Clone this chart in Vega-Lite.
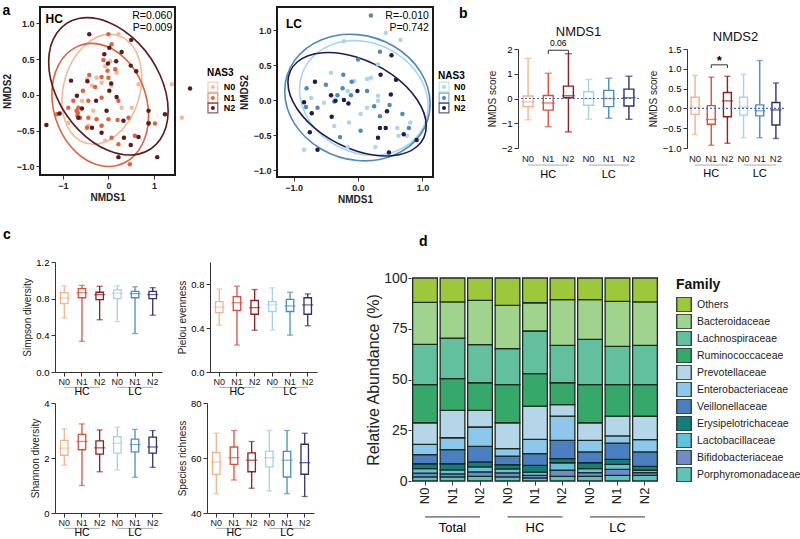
{
"$schema": "https://vega.github.io/schema/vega-lite/v6.json",
"background": "white",
"padding": {"left": 2, "top": 2, "right": 2, "bottom": 0},
"datasets": {
"one": [{}],
"pts": [
{"p":"HC","g":"N0","x":0.22,"y":0.85},{"p":"HC","g":"N0","x":-0.07,"y":0.40},{"p":"HC","g":"N0","x":-0.15,"y":0.17},{"p":"HC","g":"N0","x":-0.47,"y":0.22},{"p":"HC","g":"N0","x":1.39,"y":0.15},{"p":"HC","g":"N0","x":1.61,"y":-0.32},{"p":"HC","g":"N0","x":-0.88,"y":-0.39},{"p":"HC","g":"N0","x":-0.44,"y":-0.43},{"p":"HC","g":"N0","x":-0.15,"y":-0.43},{"p":"HC","g":"N0","x":-0.07,"y":-0.64},{"p":"HC","g":"N0","x":-0.36,"y":0.13},{"p":"HC","g":"N0","x":0.07,"y":0.13},{"p":"HC","g":"N0","x":0.18,"y":0.31},{"p":"HC","g":"N0","x":-0.26,"y":0.24},{"p":"HC","g":"N0","x":0.29,"y":-0.18},{"p":"HC","g":"N0","x":-0.58,"y":-0.08},{"p":"HC","g":"N0","x":0.51,"y":-0.18},{"p":"HC","g":"N0","x":0.04,"y":0.47},{"p":"HC","g":"N0","x":-0.33,"y":-0.22},{"p":"HC","g":"N0","x":0.66,"y":0.15},
{"p":"HC","g":"N1","x":0.0,"y":0.85},{"p":"HC","g":"N1","x":0.07,"y":0.71},{"p":"HC","g":"N1","x":-0.11,"y":0.49},{"p":"HC","g":"N1","x":0.15,"y":0.36},{"p":"HC","g":"N1","x":-0.02,"y":0.34},{"p":"HC","g":"N1","x":-0.15,"y":0.25},{"p":"HC","g":"N1","x":-0.42,"y":0.28},{"p":"HC","g":"N1","x":-0.29,"y":0.11},{"p":"HC","g":"N1","x":-0.56,"y":0.06},{"p":"HC","g":"N1","x":-0.77,"y":-0.08},{"p":"HC","g":"N1","x":-0.66,"y":-0.18},{"p":"HC","g":"N1","x":-0.67,"y":-0.25},{"p":"HC","g":"N1","x":-0.62,"y":-0.32},{"p":"HC","g":"N1","x":-1.13,"y":-0.27},{"p":"HC","g":"N1","x":-0.44,"y":-0.32},{"p":"HC","g":"N1","x":-0.26,"y":-0.34},{"p":"HC","g":"N1","x":0.0,"y":-0.34},{"p":"HC","g":"N1","x":0.20,"y":-0.35},{"p":"HC","g":"N1","x":0.44,"y":-0.32},{"p":"HC","g":"N1","x":0.88,"y":-0.39},{"p":"HC","g":"N1","x":1.02,"y":-0.40},{"p":"HC","g":"N1","x":-0.15,"y":-0.43},{"p":"HC","g":"N1","x":-0.47,"y":-0.46},{"p":"HC","g":"N1","x":0.07,"y":-0.60},{"p":"HC","g":"N1","x":0.22,"y":-0.69},{"p":"HC","g":"N1","x":0.47,"y":-0.97},{"p":"HC","g":"N1","x":0.58,"y":-0.57},{"p":"HC","g":"N1","x":-0.44,"y":-0.08},{"p":"HC","g":"N1","x":-0.88,"y":-0.18},{"p":"HC","g":"N1","x":0.22,"y":-0.08},{"p":"HC","g":"N1","x":-0.15,"y":-0.04},{"p":"HC","g":"N1","x":0.0,"y":0.24},{"p":"HC","g":"N1","x":-0.70,"y":-0.22},{"p":"HC","g":"N1","x":-0.68,"y":-0.28},
{"p":"HC","g":"N2","x":-0.42,"y":0.85},{"p":"HC","g":"N2","x":0.50,"y":0.77},{"p":"HC","g":"N2","x":0.02,"y":0.66},{"p":"HC","g":"N2","x":0.29,"y":0.60},{"p":"HC","g":"N2","x":-0.09,"y":0.57},{"p":"HC","g":"N2","x":-0.01,"y":0.44},{"p":"HC","g":"N2","x":0.17,"y":0.47},{"p":"HC","g":"N2","x":0.49,"y":0.41},{"p":"HC","g":"N2","x":0.61,"y":0.33},{"p":"HC","g":"N2","x":-0.82,"y":0.20},{"p":"HC","g":"N2","x":-0.46,"y":0.19},{"p":"HC","g":"N2","x":0.06,"y":0.16},{"p":"HC","g":"N2","x":1.79,"y":0.09},{"p":"HC","g":"N2","x":0.88,"y":-0.22},{"p":"HC","g":"N2","x":1.24,"y":-0.27},{"p":"HC","g":"N2","x":-1.36,"y":-0.42},{"p":"HC","g":"N2","x":-1.07,"y":-0.26},{"p":"HC","g":"N2","x":-0.66,"y":-0.32},{"p":"HC","g":"N2","x":-0.04,"y":-0.22},{"p":"HC","g":"N2","x":0.33,"y":-0.36},{"p":"HC","g":"N2","x":-0.36,"y":-0.46},{"p":"HC","g":"N2","x":-0.15,"y":-0.53},{"p":"HC","g":"N2","x":0.66,"y":-0.59},{"p":"HC","g":"N2","x":0.34,"y":-0.60},{"p":"HC","g":"N2","x":0.49,"y":-0.70},{"p":"HC","g":"N2","x":0.22,"y":-0.87},{"p":"HC","g":"N2","x":1.07,"y":-0.87},{"p":"HC","g":"N2","x":0.88,"y":-0.40},{"p":"HC","g":"N2","x":-0.58,"y":-0.19},{"p":"HC","g":"N2","x":-0.27,"y":-0.08},{"p":"HC","g":"N2","x":0.02,"y":0.06},{"p":"HC","g":"N2","x":0.18,"y":-0.03},{"p":"HC","g":"N2","x":-0.69,"y":-0.01},
{"p":"LC","g":"N0","x":0.43,"y":0.96},{"p":"LC","g":"N0","x":0.66,"y":0.86},{"p":"LC","g":"N0","x":-0.22,"y":0.84},{"p":"LC","g":"N0","x":-0.42,"y":0.39},{"p":"LC","g":"N0","x":0.14,"y":0.30},{"p":"LC","g":"N0","x":0.31,"y":0.51},{"p":"LC","g":"N0","x":0.20,"y":0.32},{"p":"LC","g":"N0","x":-0.06,"y":0.27},{"p":"LC","g":"N0","x":-0.16,"y":0.13},{"p":"LC","g":"N0","x":0.31,"y":0.06},{"p":"LC","g":"N0","x":0.31,"y":-0.01},{"p":"LC","g":"N0","x":-0.53,"y":-0.04},{"p":"LC","g":"N0","x":-0.14,"y":-0.32},{"p":"LC","g":"N0","x":-0.37,"y":-0.37},{"p":"LC","g":"N0","x":-0.16,"y":-0.67},{"p":"LC","g":"N0","x":0.27,"y":-0.67},{"p":"LC","g":"N0","x":-0.84,"y":-0.71},{"p":"LC","g":"N0","x":0.61,"y":-0.40},{"p":"LC","g":"N0","x":0.81,"y":-0.32},{"p":"LC","g":"N0","x":0.63,"y":-0.51},{"p":"LC","g":"N0","x":0.76,"y":-0.51},{"p":"LC","g":"N0","x":-0.73,"y":0.03},{"p":"LC","g":"N0","x":0.14,"y":-0.11},{"p":"LC","g":"N0","x":0.04,"y":-0.20},
{"p":"LC","g":"N1","x":0.20,"y":1.21},{"p":"LC","g":"N1","x":0.34,"y":0.69},{"p":"LC","g":"N1","x":0.0,"y":0.58},{"p":"LC","g":"N1","x":-0.23,"y":0.36},{"p":"LC","g":"N1","x":-0.10,"y":0.26},{"p":"LC","g":"N1","x":-0.24,"y":0.17},{"p":"LC","g":"N1","x":-0.32,"y":0.07},{"p":"LC","g":"N1","x":-0.80,"y":0.17},{"p":"LC","g":"N1","x":-0.81,"y":-0.10},{"p":"LC","g":"N1","x":-0.63,"y":-0.11},{"p":"LC","g":"N1","x":-0.11,"y":0.07},{"p":"LC","g":"N1","x":0.25,"y":-0.09},{"p":"LC","g":"N1","x":0.34,"y":-0.23},{"p":"LC","g":"N1","x":-0.28,"y":-0.53},{"p":"LC","g":"N1","x":0.04,"y":-0.44},{"p":"LC","g":"N1","x":0.69,"y":-0.20},{"p":"LC","g":"N1","x":0.79,"y":-0.40},{"p":"LC","g":"N1","x":-0.37,"y":-0.02},{"p":"LC","g":"N1","x":0.14,"y":0.13},{"p":"LC","g":"N1","x":0.49,"y":-0.07},{"p":"LC","g":"N1","x":-0.50,"y":0.22},
{"p":"LC","g":"N2","x":0.52,"y":0.64},{"p":"LC","g":"N2","x":0.35,"y":0.36},{"p":"LC","g":"N2","x":0.59,"y":0.29},{"p":"LC","g":"N2","x":-0.67,"y":0.26},{"p":"LC","g":"N2","x":-0.84,"y":-0.03},{"p":"LC","g":"N2","x":-0.72,"y":-0.19},{"p":"LC","g":"N2","x":-0.41,"y":-0.24},{"p":"LC","g":"N2","x":-0.22,"y":0.0},{"p":"LC","g":"N2","x":-0.01,"y":0.13},{"p":"LC","g":"N2","x":-0.15,"y":-0.05},{"p":"LC","g":"N2","x":0.34,"y":-0.40},{"p":"LC","g":"N2","x":0.43,"y":-0.40},{"p":"LC","g":"N2","x":0.31,"y":-0.54},{"p":"LC","g":"N2","x":0.71,"y":-0.49},{"p":"LC","g":"N2","x":0.91,"y":-0.57},{"p":"LC","g":"N2","x":0.48,"y":-0.75},{"p":"LC","g":"N2","x":-0.75,"y":-0.46},{"p":"LC","g":"N2","x":-0.63,"y":-0.71},{"p":"LC","g":"N2","x":0.51,"y":0.08},{"p":"LC","g":"N2","x":-0.35,"y":-0.01},{"p":"LC","g":"N2","x":-0.42,"y":0.07},{"p":"LC","g":"N2","x":0.45,"y":-0.16}
],
"ell": [
{"p":"HC","g":"N0","i":0,"x":0.73,"y":0.24},{"p":"HC","g":"N0","i":1,"x":0.613,"y":0.596},{"p":"HC","g":"N0","i":2,"x":0.293,"y":0.812},{"p":"HC","g":"N0","i":3,"x":-0.145,"y":0.833},{"p":"HC","g":"N0","i":4,"x":-0.583,"y":0.652},{"p":"HC","g":"N0","i":5,"x":-0.903,"y":0.318},{"p":"HC","g":"N0","i":6,"x":-1.02,"y":-0.08},{"p":"HC","g":"N0","i":7,"x":-0.903,"y":-0.436},{"p":"HC","g":"N0","i":8,"x":-0.583,"y":-0.652},{"p":"HC","g":"N0","i":9,"x":-0.145,"y":-0.673},{"p":"HC","g":"N0","i":10,"x":0.293,"y":-0.492},{"p":"HC","g":"N0","i":11,"x":0.613,"y":-0.158},
{"p":"HC","g":"N1","i":0,"x":0.88,"y":-0.29},{"p":"HC","g":"N1","i":1,"x":0.738,"y":0.154},{"p":"HC","g":"N1","i":2,"x":0.35,"y":0.519},{"p":"HC","g":"N1","i":3,"x":-0.18,"y":0.707},{"p":"HC","g":"N1","i":4,"x":-0.71,"y":0.669},{"p":"HC","g":"N1","i":5,"x":-1.098,"y":0.414},{"p":"HC","g":"N1","i":6,"x":-1.24,"y":0.01},{"p":"HC","g":"N1","i":7,"x":-1.098,"y":-0.434},{"p":"HC","g":"N1","i":8,"x":-0.71,"y":-0.799},{"p":"HC","g":"N1","i":9,"x":-0.18,"y":-0.987},{"p":"HC","g":"N1","i":10,"x":0.35,"y":-0.949},{"p":"HC","g":"N1","i":11,"x":0.738,"y":-0.694},
{"p":"HC","g":"N2","i":0,"x":1.31,"y":-0.22},{"p":"HC","g":"N2","i":1,"x":1.134,"y":0.275},{"p":"HC","g":"N2","i":2,"x":0.655,"y":0.728},{"p":"HC","g":"N2","i":3,"x":0.0,"y":1.018},{"p":"HC","g":"N2","i":4,"x":-0.655,"y":1.068},{"p":"HC","g":"N2","i":5,"x":-1.134,"y":0.863},{"p":"HC","g":"N2","i":6,"x":-1.31,"y":0.46},{"p":"HC","g":"N2","i":7,"x":-1.134,"y":-0.035},{"p":"HC","g":"N2","i":8,"x":-0.655,"y":-0.488},{"p":"HC","g":"N2","i":9,"x":0.0,"y":-0.778},{"p":"HC","g":"N2","i":10,"x":0.655,"y":-0.828},{"p":"HC","g":"N2","i":11,"x":1.134,"y":-0.623},
{"p":"LC","g":"N0","i":0,"x":1.09,"y":-0.09},{"p":"LC","g":"N0","i":1,"x":0.956,"y":0.331},{"p":"LC","g":"N0","i":2,"x":0.59,"y":0.671},{"p":"LC","g":"N0","i":3,"x":0.09,"y":0.84},{"p":"LC","g":"N0","i":4,"x":-0.41,"y":0.791},{"p":"LC","g":"N0","i":5,"x":-0.776,"y":0.539},{"p":"LC","g":"N0","i":6,"x":-0.91,"y":0.15},{"p":"LC","g":"N0","i":7,"x":-0.776,"y":-0.271},{"p":"LC","g":"N0","i":8,"x":-0.41,"y":-0.611},{"p":"LC","g":"N0","i":9,"x":0.09,"y":-0.78},{"p":"LC","g":"N0","i":10,"x":0.59,"y":-0.731},{"p":"LC","g":"N0","i":11,"x":0.956,"y":-0.479},
{"p":"LC","g":"N1","i":0,"x":1.12,"y":-0.055},{"p":"LC","g":"N1","i":1,"x":0.969,"y":0.407},{"p":"LC","g":"N1","i":2,"x":0.555,"y":0.769},{"p":"LC","g":"N1","i":3,"x":-0.01,"y":0.935},{"p":"LC","g":"N1","i":4,"x":-0.575,"y":0.859},{"p":"LC","g":"N1","i":5,"x":-0.989,"y":0.563},{"p":"LC","g":"N1","i":6,"x":-1.14,"y":0.125},{"p":"LC","g":"N1","i":7,"x":-0.989,"y":-0.337},{"p":"LC","g":"N1","i":8,"x":-0.575,"y":-0.699},{"p":"LC","g":"N1","i":9,"x":-0.01,"y":-0.865},{"p":"LC","g":"N1","i":10,"x":0.555,"y":-0.789},{"p":"LC","g":"N1","i":11,"x":0.969,"y":-0.493},
{"p":"LC","g":"N2","i":0,"x":1.06,"y":-0.37},{"p":"LC","g":"N2","i":1,"x":0.916,"y":0.008},{"p":"LC","g":"N2","i":2,"x":0.523,"y":0.367},{"p":"LC","g":"N2","i":3,"x":-0.015,"y":0.612},{"p":"LC","g":"N2","i":4,"x":-0.553,"y":0.677},{"p":"LC","g":"N2","i":5,"x":-0.946,"y":0.544},{"p":"LC","g":"N2","i":6,"x":-1.09,"y":0.25},{"p":"LC","g":"N2","i":7,"x":-0.946,"y":-0.128},{"p":"LC","g":"N2","i":8,"x":-0.553,"y":-0.487},{"p":"LC","g":"N2","i":9,"x":-0.015,"y":-0.732},{"p":"LC","g":"N2","i":10,"x":0.523,"y":-0.797},{"p":"LC","g":"N2","i":11,"x":0.916,"y":-0.664}
],
"box": [
{"m":"NMDS1","grp":"HC N0","lo":-0.86,"q1":-0.33,"md":-0.13,"q3":0.1,"hi":1.62},
{"m":"NMDS1","grp":"HC N1","lo":-1.14,"q1":-0.47,"md":-0.18,"q3":0.12,"hi":1.02},
{"m":"NMDS1","grp":"HC N2","lo":-1.35,"q1":0.03,"md":0.11,"q3":0.5,"hi":1.81},
{"m":"NMDS1","grp":"LC N0","lo":-0.84,"q1":-0.27,"md":0.0,"q3":0.27,"hi":0.77},
{"m":"NMDS1","grp":"LC N1","lo":-0.8,"q1":-0.33,"md":0.0,"q3":0.33,"hi":0.82},
{"m":"NMDS1","grp":"LC N2","lo":-0.84,"q1":-0.3,"md":0.03,"q3":0.38,"hi":0.9},
{"m":"NMDS2","grp":"HC N0","lo":-0.66,"q1":-0.15,"md":0.03,"q3":0.28,"hi":0.83},
{"m":"NMDS2","grp":"HC N1","lo":-0.93,"q1":-0.4,"md":-0.28,"q3":0.07,"hi":0.79},
{"m":"NMDS2","grp":"HC N2","lo":-0.88,"q1":-0.21,"md":0.19,"q3":0.4,"hi":0.81},
{"m":"NMDS2","grp":"LC N0","lo":-0.74,"q1":-0.17,"md":0.03,"q3":0.28,"hi":0.86},
{"m":"NMDS2","grp":"LC N1","lo":-0.74,"q1":-0.19,"md":-0.06,"q3":0.09,"hi":1.21},
{"m":"NMDS2","grp":"LC N2","lo":-0.76,"q1":-0.42,"md":-0.04,"q3":0.15,"hi":0.64},
{"m":"Simpson","grp":"HC N0","lo":0.59,"q1":0.745,"md":0.807,"q3":0.865,"hi":0.94},
{"m":"Simpson","grp":"HC N1","lo":0.335,"q1":0.81,"md":0.865,"q3":0.91,"hi":0.945},
{"m":"Simpson","grp":"HC N2","lo":0.57,"q1":0.79,"md":0.844,"q3":0.87,"hi":0.935},
{"m":"Simpson","grp":"LC N0","lo":0.55,"q1":0.8,"md":0.86,"q3":0.895,"hi":0.94},
{"m":"Simpson","grp":"LC N1","lo":0.42,"q1":0.81,"md":0.855,"q3":0.88,"hi":0.93},
{"m":"Simpson","grp":"LC N2","lo":0.62,"q1":0.8,"md":0.845,"q3":0.88,"hi":0.92},
{"m":"Pielou","grp":"HC N0","lo":0.425,"q1":0.54,"md":0.59,"q3":0.64,"hi":0.755},
{"m":"Pielou","grp":"HC N1","lo":0.245,"q1":0.56,"md":0.63,"q3":0.685,"hi":0.78},
{"m":"Pielou","grp":"HC N2","lo":0.38,"q1":0.525,"md":0.585,"q3":0.65,"hi":0.75},
{"m":"Pielou","grp":"LC N0","lo":0.38,"q1":0.55,"md":0.61,"q3":0.64,"hi":0.765},
{"m":"Pielou","grp":"LC N1","lo":0.335,"q1":0.55,"md":0.6,"q3":0.66,"hi":0.725},
{"m":"Pielou","grp":"LC N2","lo":0.42,"q1":0.525,"md":0.61,"q3":0.675,"hi":0.71},
{"m":"Shannon","grp":"HC N0","lo":1.74,"q1":2.1,"md":2.36,"q3":2.64,"hi":3.06},
{"m":"Shannon","grp":"HC N1","lo":1.0,"q1":2.3,"md":2.6,"q3":2.86,"hi":3.24},
{"m":"Shannon","grp":"HC N2","lo":1.5,"q1":2.14,"md":2.37,"q3":2.62,"hi":3.02},
{"m":"Shannon","grp":"LC N0","lo":1.56,"q1":2.18,"md":2.54,"q3":2.78,"hi":3.12},
{"m":"Shannon","grp":"LC N1","lo":1.3,"q1":2.22,"md":2.49,"q3":2.69,"hi":3.04},
{"m":"Shannon","grp":"LC N2","lo":1.66,"q1":2.18,"md":2.4,"q3":2.76,"hi":3.0},
{"m":"Rich","grp":"HC N0","lo":47,"q1":54,"md":58.5,"q3":62,"hi":69},
{"m":"Rich","grp":"HC N1","lo":52,"q1":57.7,"md":60.1,"q3":64,"hi":70},
{"m":"Rich","grp":"HC N2","lo":49,"q1":55,"md":59.2,"q3":61.9,"hi":66},
{"m":"Rich","grp":"LC N0","lo":48,"q1":56.8,"md":60.1,"q3":62.5,"hi":70},
{"m":"Rich","grp":"LC N1","lo":47,"q1":53.1,"md":59.2,"q3":62.4,"hi":70},
{"m":"Rich","grp":"LC N2","lo":46,"q1":54.1,"md":58.3,"q3":65,"hi":69}
],
"abund": [
{"bar":"Total N0","fam":"Porphyromonadaceae","v":2},{"bar":"Total N0","fam":"Bifidobacteriaceae","v":1.9},{"bar":"Total N0","fam":"Lactobacillaceae","v":2.2},{"bar":"Total N0","fam":"Erysipelotrichaceae","v":2.4},{"bar":"Total N0","fam":"Veillonellaceae","v":4.5},{"bar":"Total N0","fam":"Enterobacteriaceae","v":5},{"bar":"Total N0","fam":"Prevotellaceae","v":10.7},{"bar":"Total N0","fam":"Ruminococcaceae","v":18.8},{"bar":"Total N0","fam":"Lachnospiraceae","v":19.8},{"bar":"Total N0","fam":"Bacteroidaceae","v":20.7},{"bar":"Total N0","fam":"Others","v":12},
{"bar":"Total N1","fam":"Porphyromonadaceae","v":2},{"bar":"Total N1","fam":"Bifidobacteriaceae","v":1.5},{"bar":"Total N1","fam":"Lactobacillaceae","v":2},{"bar":"Total N1","fam":"Erysipelotrichaceae","v":3},{"bar":"Total N1","fam":"Veillonellaceae","v":7},{"bar":"Total N1","fam":"Enterobacteriaceae","v":5.8},{"bar":"Total N1","fam":"Prevotellaceae","v":13.5},{"bar":"Total N1","fam":"Ruminococcaceae","v":15.6},{"bar":"Total N1","fam":"Lachnospiraceae","v":20},{"bar":"Total N1","fam":"Bacteroidaceae","v":17.8},{"bar":"Total N1","fam":"Others","v":11.8},
{"bar":"Total N2","fam":"Porphyromonadaceae","v":2.3},{"bar":"Total N2","fam":"Bifidobacteriaceae","v":2.2},{"bar":"Total N2","fam":"Lactobacillaceae","v":2.5},{"bar":"Total N2","fam":"Erysipelotrichaceae","v":2.4},{"bar":"Total N2","fam":"Veillonellaceae","v":7.7},{"bar":"Total N2","fam":"Enterobacteriaceae","v":9.5},{"bar":"Total N2","fam":"Prevotellaceae","v":8.2},{"bar":"Total N2","fam":"Ruminococcaceae","v":13.6},{"bar":"Total N2","fam":"Lachnospiraceae","v":18.8},{"bar":"Total N2","fam":"Bacteroidaceae","v":21.8},{"bar":"Total N2","fam":"Others","v":11},
{"bar":"HC N0","fam":"Porphyromonadaceae","v":2},{"bar":"HC N0","fam":"Bifidobacteriaceae","v":2},{"bar":"HC N0","fam":"Lactobacillaceae","v":2},{"bar":"HC N0","fam":"Erysipelotrichaceae","v":2},{"bar":"HC N0","fam":"Veillonellaceae","v":4.3},{"bar":"HC N0","fam":"Enterobacteriaceae","v":3.6},{"bar":"HC N0","fam":"Prevotellaceae","v":12.8},{"bar":"HC N0","fam":"Ruminococcaceae","v":18.8},{"bar":"HC N0","fam":"Lachnospiraceae","v":17.7},{"bar":"HC N0","fam":"Bacteroidaceae","v":21.3},{"bar":"HC N0","fam":"Others","v":13.5},
{"bar":"HC N1","fam":"Porphyromonadaceae","v":1.5},{"bar":"HC N1","fam":"Bifidobacteriaceae","v":1.3},{"bar":"HC N1","fam":"Lactobacillaceae","v":1.6},{"bar":"HC N1","fam":"Erysipelotrichaceae","v":3.3},{"bar":"HC N1","fam":"Veillonellaceae","v":5.8},{"bar":"HC N1","fam":"Enterobacteriaceae","v":7},{"bar":"HC N1","fam":"Prevotellaceae","v":16.4},{"bar":"HC N1","fam":"Ruminococcaceae","v":16},{"bar":"HC N1","fam":"Lachnospiraceae","v":21},{"bar":"HC N1","fam":"Bacteroidaceae","v":13.9},{"bar":"HC N1","fam":"Others","v":12.2},
{"bar":"HC N2","fam":"Porphyromonadaceae","v":2.3},{"bar":"HC N2","fam":"Bifidobacteriaceae","v":3},{"bar":"HC N2","fam":"Lactobacillaceae","v":3.7},{"bar":"HC N2","fam":"Erysipelotrichaceae","v":2},{"bar":"HC N2","fam":"Veillonellaceae","v":9},{"bar":"HC N2","fam":"Enterobacteriaceae","v":12},{"bar":"HC N2","fam":"Prevotellaceae","v":5.6},{"bar":"HC N2","fam":"Ruminococcaceae","v":10.8},{"bar":"HC N2","fam":"Lachnospiraceae","v":18.4},{"bar":"HC N2","fam":"Bacteroidaceae","v":22.5},{"bar":"HC N2","fam":"Others","v":10.7},
{"bar":"LC N0","fam":"Porphyromonadaceae","v":2.3},{"bar":"LC N0","fam":"Bifidobacteriaceae","v":1.8},{"bar":"LC N0","fam":"Lactobacillaceae","v":2},{"bar":"LC N0","fam":"Erysipelotrichaceae","v":2.9},{"bar":"LC N0","fam":"Veillonellaceae","v":5.3},{"bar":"LC N0","fam":"Enterobacteriaceae","v":5.7},{"bar":"LC N0","fam":"Prevotellaceae","v":8.7},{"bar":"LC N0","fam":"Ruminococcaceae","v":18.8},{"bar":"LC N0","fam":"Lachnospiraceae","v":22.3},{"bar":"LC N0","fam":"Bacteroidaceae","v":19.5},{"bar":"LC N0","fam":"Others","v":10.7},
{"bar":"LC N1","fam":"Porphyromonadaceae","v":2.8},{"bar":"LC N1","fam":"Bifidobacteriaceae","v":2.9},{"bar":"LC N1","fam":"Lactobacillaceae","v":2.5},{"bar":"LC N1","fam":"Erysipelotrichaceae","v":2.5},{"bar":"LC N1","fam":"Veillonellaceae","v":8},{"bar":"LC N1","fam":"Enterobacteriaceae","v":3.5},{"bar":"LC N1","fam":"Prevotellaceae","v":9.8},{"bar":"LC N1","fam":"Ruminococcaceae","v":15.5},{"bar":"LC N1","fam":"Lachnospiraceae","v":18.8},{"bar":"LC N1","fam":"Bacteroidaceae","v":22.2},{"bar":"LC N1","fam":"Others","v":11.5},
{"bar":"LC N2","fam":"Porphyromonadaceae","v":2.8},{"bar":"LC N2","fam":"Bifidobacteriaceae","v":1.3},{"bar":"LC N2","fam":"Lactobacillaceae","v":1.2},{"bar":"LC N2","fam":"Erysipelotrichaceae","v":1.9},{"bar":"LC N2","fam":"Veillonellaceae","v":7.1},{"bar":"LC N2","fam":"Enterobacteriaceae","v":6.1},{"bar":"LC N2","fam":"Prevotellaceae","v":11.5},{"bar":"LC N2","fam":"Ruminococcaceae","v":15.6},{"bar":"LC N2","fam":"Lachnospiraceae","v":19.3},{"bar":"LC N2","fam":"Bacteroidaceae","v":21.4},{"bar":"LC N2","fam":"Others","v":11.8}
]
},
"vconcat": [
{
"spacing": 19,
"resolve": {"scale": {"color": "independent"}, "legend": {"color": "independent"}},
"hconcat": [
{
"spacing": 3,
"resolve": {"scale": {"color": "independent"}, "legend": {"color": "independent"}},
"hconcat": [
{
"width": 135, "height": 168,
"layer": [
{"data": {"name": "ell"}, "transform": [{"filter": "datum.p==='HC'"}],
 "mark": {"type": "line", "interpolate": "cardinal-closed", "strokeWidth": 1.6},
 "encoding": {
  "x": {"field": "x", "type": "quantitative", "scale": {"domain": [-1.5, 1.46], "nice": false, "zero": false}, "axis": {"values": [-1, 0, 1], "title": "NMDS1", "labelFontWeight": "bold", "titleFontWeight": "bold", "domain": false, "tickSize": 4, "titlePadding": 2, "labelFontSize": 9, "titleFontSize": 10}},
  "y": {"field": "y", "type": "quantitative", "scale": {"domain": [-1.12, 1.23], "nice": false, "zero": false}, "axis": {"values": [-1, -0.5, 0, 0.5, 1], "format": ".1f", "title": "NMDS2", "labelFontWeight": "bold", "titleFontWeight": "bold", "domain": false, "tickSize": 4, "labelFontSize": 9, "titleFontSize": 10}},
  "color": {"field": "g", "type": "nominal", "scale": {"domain": ["N0", "N1", "N2"], "range": ["#f2b99a", "#df633f", "#5e1a1a"]}, "legend": null},
  "order": {"field": "i", "type": "quantitative"}}},
{"data": {"name": "pts"}, "transform": [{"filter": "datum.p==='HC'"}],
 "mark": {"type": "circle", "size": 20, "opacity": 1},
 "encoding": {"x": {"field": "x", "type": "quantitative"}, "y": {"field": "y", "type": "quantitative"}, "color": {"field": "g", "type": "nominal", "legend": null}}},
{"data": {"name": "one"}, "mark": {"type": "rect", "filled": false, "stroke": "#1a1a1a", "strokeWidth": 2}, "encoding": {"x": {"datum": -1.5}, "x2": {"datum": 1.46}, "y": {"datum": -1.12}, "y2": {"datum": 1.23}}},
{"data": {"name": "one"}, "mark": {"type": "text", "text": "HC", "fontWeight": "bold", "fontSize": 12, "align": "left", "baseline": "middle"}, "encoding": {"x": {"datum": -1.38}, "y": {"datum": 1.06}}},
{"data": {"name": "one"}, "mark": {"type": "text", "text": ["R=0.060", "P=0.009"], "fontSize": 10.5, "align": "right", "baseline": "top", "lineHeight": 12}, "encoding": {"x": {"datum": 1.4}, "y": {"datum": 1.17}}},
{"data": {"name": "one"}, "mark": {"type": "text", "text": "a", "fontWeight": "bold", "fontSize": 14, "align": "left", "baseline": "top"}, "encoding": {"x": {"datum": -2.32}, "y": {"datum": 1.27}}},
{"data": {"name": "one"}, "mark": {"type": "text", "text": "NAS3", "fontWeight": "bold", "fontSize": 10, "align": "left", "baseline": "middle"}, "encoding": {"x": {"datum": 2.16}, "y": {"datum": 0.307}}},
{"data": {"name": "one"}, "mark": {"type": "point", "shape": "square", "filled": false, "size": 95, "strokeWidth": 1.2, "color": "#f2b99a"}, "encoding": {"x": {"datum": 2.29}, "y": {"datum": 0.111}}},
{"data": {"name": "one"}, "mark": {"type": "point", "shape": "square", "filled": false, "size": 95, "strokeWidth": 1.2, "color": "#df633f"}, "encoding": {"x": {"datum": 2.29}, "y": {"datum": -0.043}}},
{"data": {"name": "one"}, "mark": {"type": "point", "shape": "square", "filled": false, "size": 95, "strokeWidth": 1.2, "color": "#5e1a1a"}, "encoding": {"x": {"datum": 2.29}, "y": {"datum": -0.183}}},
{"data": {"name": "one"}, "mark": {"type": "circle", "size": 16, "opacity": 1, "color": "#f2b99a"}, "encoding": {"x": {"datum": 2.29}, "y": {"datum": 0.111}}},
{"data": {"name": "one"}, "mark": {"type": "circle", "size": 16, "opacity": 1, "color": "#df633f"}, "encoding": {"x": {"datum": 2.29}, "y": {"datum": -0.043}}},
{"data": {"name": "one"}, "mark": {"type": "circle", "size": 16, "opacity": 1, "color": "#5e1a1a"}, "encoding": {"x": {"datum": 2.29}, "y": {"datum": -0.183}}},
{"data": {"name": "one"}, "mark": {"type": "text", "text": "N0", "fontWeight": "bold", "fontSize": 9, "align": "left", "baseline": "middle"}, "encoding": {"x": {"datum": 2.53}, "y": {"datum": 0.111}}},
{"data": {"name": "one"}, "mark": {"type": "text", "text": "N1", "fontWeight": "bold", "fontSize": 9, "align": "left", "baseline": "middle"}, "encoding": {"x": {"datum": 2.53}, "y": {"datum": -0.043}}},
{"data": {"name": "one"}, "mark": {"type": "text", "text": "N2", "fontWeight": "bold", "fontSize": 9, "align": "left", "baseline": "middle"}, "encoding": {"x": {"datum": 2.53}, "y": {"datum": -0.183}}}
]
},
{
"width": 156, "height": 170,
"layer": [
{"data": {"name": "ell"}, "transform": [{"filter": "datum.p==='LC'"}],
 "mark": {"type": "line", "interpolate": "cardinal-closed", "strokeWidth": 1.6},
 "encoding": {
  "x": {"field": "x", "type": "quantitative", "scale": {"domain": [-1.26, 1.165], "nice": false, "zero": false}, "axis": {"values": [-1, -0.5, 0, 0.5, 1], "format": ".1f", "title": "NMDS1", "labelFontWeight": "bold", "titleFontWeight": "bold", "domain": false, "tickSize": 4, "titlePadding": 2, "labelFontSize": 9, "titleFontSize": 10}},
  "y": {"field": "y", "type": "quantitative", "scale": {"domain": [-1.1, 1.33], "nice": false, "zero": false}, "axis": {"values": [-1, -0.5, 0, 0.5, 1], "format": ".1f", "title": "NMDS2", "labelFontWeight": "bold", "titleFontWeight": "bold", "domain": false, "tickSize": 4, "labelFontSize": 9, "titleFontSize": 10}},
  "color": {"field": "g", "type": "nominal", "scale": {"domain": ["N0", "N1", "N2"], "range": ["#a9d6ee", "#4d88c4", "#1c1c50"]}, "legend": null},
  "order": {"field": "i", "type": "quantitative"}}},
{"data": {"name": "pts"}, "transform": [{"filter": "datum.p==='LC'"}],
 "mark": {"type": "circle", "size": 20, "opacity": 1},
 "encoding": {"x": {"field": "x", "type": "quantitative"}, "y": {"field": "y", "type": "quantitative"}, "color": {"field": "g", "type": "nominal", "legend": null}}},
{"data": {"name": "one"}, "mark": {"type": "rect", "filled": false, "stroke": "#1a1a1a", "strokeWidth": 2}, "encoding": {"x": {"datum": -1.26}, "x2": {"datum": 1.165}, "y": {"datum": -1.1}, "y2": {"datum": 1.33}}},
{"data": {"name": "one"}, "mark": {"type": "text", "text": "LC", "fontWeight": "bold", "fontSize": 12, "align": "left", "baseline": "middle"}, "encoding": {"x": {"datum": -1.12}, "y": {"datum": 1.08}}},
{"data": {"name": "one"}, "mark": {"type": "text", "text": ["R=-0.010", "P=0.742"], "fontSize": 10.5, "align": "right", "baseline": "top", "lineHeight": 12}, "encoding": {"x": {"datum": 1.1}, "y": {"datum": 1.27}}},
{"data": {"name": "one"}, "mark": {"type": "text", "text": "b", "fontWeight": "bold", "fontSize": 14, "align": "left", "baseline": "top"}, "encoding": {"x": {"datum": 1.57}, "y": {"datum": 1.33}}},
{"data": {"name": "one"}, "mark": {"type": "text", "text": "NAS3", "fontWeight": "bold", "fontSize": 10, "align": "left", "baseline": "middle"}, "encoding": {"x": {"datum": 1.243}, "y": {"datum": 0.344}}},
{"data": {"name": "one"}, "mark": {"type": "point", "shape": "square", "filled": false, "size": 95, "strokeWidth": 1.2, "color": "#a9d6ee"}, "encoding": {"x": {"datum": 1.336}, "y": {"datum": 0.186}}},
{"data": {"name": "one"}, "mark": {"type": "point", "shape": "square", "filled": false, "size": 95, "strokeWidth": 1.2, "color": "#4d88c4"}, "encoding": {"x": {"datum": 1.336}, "y": {"datum": 0.029}}},
{"data": {"name": "one"}, "mark": {"type": "point", "shape": "square", "filled": false, "size": 95, "strokeWidth": 1.2, "color": "#1c1c50"}, "encoding": {"x": {"datum": 1.336}, "y": {"datum": -0.114}}},
{"data": {"name": "one"}, "mark": {"type": "circle", "size": 16, "opacity": 1, "color": "#a9d6ee"}, "encoding": {"x": {"datum": 1.336}, "y": {"datum": 0.186}}},
{"data": {"name": "one"}, "mark": {"type": "circle", "size": 16, "opacity": 1, "color": "#4d88c4"}, "encoding": {"x": {"datum": 1.336}, "y": {"datum": 0.029}}},
{"data": {"name": "one"}, "mark": {"type": "circle", "size": 16, "opacity": 1, "color": "#1c1c50"}, "encoding": {"x": {"datum": 1.336}, "y": {"datum": -0.114}}},
{"data": {"name": "one"}, "mark": {"type": "text", "text": "N0", "fontWeight": "bold", "fontSize": 9, "align": "left", "baseline": "middle"}, "encoding": {"x": {"datum": 1.49}, "y": {"datum": 0.186}}},
{"data": {"name": "one"}, "mark": {"type": "text", "text": "N1", "fontWeight": "bold", "fontSize": 9, "align": "left", "baseline": "middle"}, "encoding": {"x": {"datum": 1.49}, "y": {"datum": 0.029}}},
{"data": {"name": "one"}, "mark": {"type": "text", "text": "N2", "fontWeight": "bold", "fontSize": 9, "align": "left", "baseline": "middle"}, "encoding": {"x": {"datum": 1.49}, "y": {"datum": -0.114}}}
]
}
]
},
{
"spacing": 13,
"resolve": {"scale": {"color": "independent"}, "legend": {"color": "independent"}},
"vconcat": [
{"width": 1, "height": 1, "data": {"name": "one"}, "mark": {"type": "text", "text": " "}, "encoding": {"x": {"datum": 0, "scale": {"domain": [0, 1]}, "axis": null}, "y": {"datum": 0, "scale": {"domain": [0, 1]}, "axis": null}}},
{
"spacing": 8,
"resolve": {"scale": {"color": "independent"}, "legend": {"color": "independent"}},
"hconcat": [
{
"width": 121, "height": 99,
"title": {"text": "NMDS1", "fontSize": 13, "fontWeight": "normal", "offset": 0},
"data": {"name": "box"},
"transform": [{"filter": "datum.m==='NMDS1'"}],
"layer": [
{"mark": {"type": "rule", "strokeWidth": 1.4}, "encoding": {
  "x": {"field": "grp", "type": "nominal", "sort": null, "scale": {"domain": ["HC N0", "HC N1", "HC N2", "LC N0", "LC N1", "LC N2"], "paddingInner": 0.3, "paddingOuter": 0.15}, "axis": {"labelExpr": "slice(datum.value, 3)", "title": null, "domain": false, "ticks": false, "labelAngle": 0, "labelFontSize": 9.5, "labelPadding": 5}},
  "y": {"field": "lo", "type": "quantitative", "scale": {"domain": [-2, 2], "nice": false}, "axis": {"values": [-2, -1, 0, 1, 2], "tickCount": 5, "title": "NMDS score", "tickSize": 4, "labelFontSize": 9.5, "titleFontSize": 10, "labelOverlap": false, "labelColor": "#000"}},
  "y2": {"field": "q1"},
  "color": {"field": "grp", "type": "nominal", "scale": {"domain": ["HC N0", "HC N1", "HC N2", "LC N0", "LC N1", "LC N2"], "range": ["#f2b38d", "#d9503a", "#8e1f24", "#a9d0e8", "#4a8cc2", "#30306e"]}, "legend": null}}},
{"mark": {"type": "rule", "strokeWidth": 1.4}, "encoding": {"x": {"field": "grp", "type": "nominal"}, "y": {"field": "q3", "type": "quantitative", "axis": {"values": [-2, -1, 0, 1, 2], "tickCount": 5}}, "y2": {"field": "hi"}, "color": {"field": "grp", "type": "nominal", "legend": null}}},
{"mark": {"type": "bar", "filled": false, "strokeWidth": 1.4, "width": {"band": 0.7}}, "encoding": {"x": {"field": "grp", "type": "nominal"}, "y": {"field": "q1", "type": "quantitative", "axis": {"values": [-2, -1, 0, 1, 2], "tickCount": 5}}, "y2": {"field": "q3"}, "color": {"field": "grp", "type": "nominal", "legend": null}}},
{"mark": {"type": "tick", "thickness": 1.4, "size": 13}, "encoding": {"x": {"field": "grp", "type": "nominal"}, "y": {"field": "md", "type": "quantitative", "axis": {"values": [-2, -1, 0, 1, 2], "tickCount": 5}}, "color": {"field": "grp", "type": "nominal", "legend": null}}},
{"mark": {"type": "tick", "thickness": 1.4, "size": 7}, "encoding": {"x": {"field": "grp", "type": "nominal"}, "y": {"field": "lo", "type": "quantitative", "axis": {"values": [-2, -1, 0, 1, 2], "tickCount": 5}}, "color": {"field": "grp", "type": "nominal", "legend": null}}},
{"mark": {"type": "tick", "thickness": 1.4, "size": 7}, "encoding": {"x": {"field": "grp", "type": "nominal"}, "y": {"field": "hi", "type": "quantitative", "axis": {"values": [-2, -1, 0, 1, 2], "tickCount": 5}}, "color": {"field": "grp", "type": "nominal", "legend": null}}},
{"data": {"name": "one"}, "mark": {"type": "rule", "strokeDash": [2, 2], "color": "#4a6db0", "strokeWidth": 1.2}, "encoding": {"y": {"datum": 0}}},
{"data": {"name": "one"}, "mark": {"type": "rule", "color": "#333", "strokeWidth": 1}, "encoding": {"x": {"datum": "HC N1"}, "x2": {"datum": "HC N2"}, "y": {"datum": 1.95}}},
{"data": {"name": "one"}, "mark": {"type": "rule", "color": "#333", "strokeWidth": 1}, "encoding": {"x": {"datum": "HC N1"}, "y": {"datum": 1.95}, "y2": {"datum": 1.8}}},
{"data": {"name": "one"}, "mark": {"type": "rule", "color": "#333", "strokeWidth": 1}, "encoding": {"x": {"datum": "HC N2"}, "y": {"datum": 1.95}, "y2": {"datum": 1.8}}},
{"data": {"name": "one"}, "mark": {"type": "text", "text": "0.06", "fontSize": 8.5, "dx": 10, "baseline": "bottom", "dy": -2}, "encoding": {"x": {"datum": "HC N1"}, "y": {"datum": 1.95}}},
{"data": {"name": "one"}, "mark": {"type": "rule", "color": "#aaa", "strokeWidth": 1}, "encoding": {"x": {"datum": "HC N0"}, "x2": {"datum": "HC N2"}, "y": {"datum": -2.69}}},
{"data": {"name": "one"}, "mark": {"type": "rule", "color": "#aaa", "strokeWidth": 1}, "encoding": {"x": {"datum": "LC N0"}, "x2": {"datum": "LC N2"}, "y": {"datum": -2.69}}},
{"data": {"name": "one"}, "mark": {"type": "text", "text": "HC", "fontSize": 11, "baseline": "middle"}, "encoding": {"x": {"datum": "HC N1"}, "y": {"datum": -3.1}}},
{"data": {"name": "one"}, "mark": {"type": "text", "text": "LC", "fontSize": 11, "baseline": "middle"}, "encoding": {"x": {"datum": "LC N1"}, "y": {"datum": -3.1}}}
]
},
{
"width": 97, "height": 99,
"title": {"text": "NMDS2", "fontSize": 13, "fontWeight": "normal", "offset": 0},
"data": {"name": "box"},
"transform": [{"filter": "datum.m==='NMDS2'"}],
"layer": [
{"mark": {"type": "rule", "strokeWidth": 1.4}, "encoding": {
  "x": {"field": "grp", "type": "nominal", "sort": null, "scale": {"domain": ["HC N0", "HC N1", "HC N2", "LC N0", "LC N1", "LC N2"], "paddingInner": 0.3, "paddingOuter": 0.15}, "axis": {"labelExpr": "slice(datum.value, 3)", "title": null, "domain": false, "ticks": false, "labelAngle": 0, "labelFontSize": 9.5, "labelPadding": 5}},
  "y": {"field": "lo", "type": "quantitative", "scale": {"domain": [-1, 1.5], "nice": false}, "axis": {"values": [-1, -0.5, 0, 0.5, 1, 1.5], "tickCount": 6, "format": ".1f", "title": "NMDS score", "tickSize": 4, "labelFontSize": 9.5, "titleFontSize": 10, "labelOverlap": false, "labelColor": "#000"}},
  "y2": {"field": "q1"},
  "color": {"field": "grp", "type": "nominal", "scale": {"domain": ["HC N0", "HC N1", "HC N2", "LC N0", "LC N1", "LC N2"], "range": ["#f2b38d", "#d9503a", "#8e1f24", "#a9d0e8", "#4a8cc2", "#30306e"]}, "legend": null}}},
{"mark": {"type": "rule", "strokeWidth": 1.4}, "encoding": {"x": {"field": "grp", "type": "nominal"}, "y": {"field": "q3", "type": "quantitative", "axis": {"values": [-1, -0.5, 0, 0.5, 1, 1.5], "tickCount": 6}}, "y2": {"field": "hi"}, "color": {"field": "grp", "type": "nominal", "legend": null}}},
{"mark": {"type": "bar", "filled": false, "strokeWidth": 1.4, "width": {"band": 0.7}}, "encoding": {"x": {"field": "grp", "type": "nominal"}, "y": {"field": "q1", "type": "quantitative", "axis": {"values": [-1, -0.5, 0, 0.5, 1, 1.5], "tickCount": 6}}, "y2": {"field": "q3"}, "color": {"field": "grp", "type": "nominal", "legend": null}}},
{"mark": {"type": "tick", "thickness": 1.4, "size": 11}, "encoding": {"x": {"field": "grp", "type": "nominal"}, "y": {"field": "md", "type": "quantitative", "axis": {"values": [-1, -0.5, 0, 0.5, 1, 1.5], "tickCount": 6}}, "color": {"field": "grp", "type": "nominal", "legend": null}}},
{"mark": {"type": "tick", "thickness": 1.4, "size": 6}, "encoding": {"x": {"field": "grp", "type": "nominal"}, "y": {"field": "lo", "type": "quantitative", "axis": {"values": [-1, -0.5, 0, 0.5, 1, 1.5], "tickCount": 6}}, "color": {"field": "grp", "type": "nominal", "legend": null}}},
{"mark": {"type": "tick", "thickness": 1.4, "size": 6}, "encoding": {"x": {"field": "grp", "type": "nominal"}, "y": {"field": "hi", "type": "quantitative", "axis": {"values": [-1, -0.5, 0, 0.5, 1, 1.5], "tickCount": 6}}, "color": {"field": "grp", "type": "nominal", "legend": null}}},
{"data": {"name": "one"}, "mark": {"type": "rule", "strokeDash": [2, 2], "color": "#4a6db0", "strokeWidth": 1.2}, "encoding": {"y": {"datum": 0}}},
{"data": {"name": "one"}, "mark": {"type": "rule", "color": "#333", "strokeWidth": 1}, "encoding": {"x": {"datum": "HC N1"}, "x2": {"datum": "HC N2"}, "y": {"datum": 1.1}}},
{"data": {"name": "one"}, "mark": {"type": "rule", "color": "#333", "strokeWidth": 1}, "encoding": {"x": {"datum": "HC N1"}, "y": {"datum": 1.1}, "y2": {"datum": 1.02}}},
{"data": {"name": "one"}, "mark": {"type": "rule", "color": "#333", "strokeWidth": 1}, "encoding": {"x": {"datum": "HC N2"}, "y": {"datum": 1.1}, "y2": {"datum": 1.02}}},
{"data": {"name": "one"}, "mark": {"type": "text", "text": "*", "fontSize": 13, "fontWeight": "bold", "dx": 8, "baseline": "bottom", "dy": 3}, "encoding": {"x": {"datum": "HC N1"}, "y": {"datum": 1.1}}},
{"data": {"name": "one"}, "mark": {"type": "rule", "color": "#aaa", "strokeWidth": 1}, "encoding": {"x": {"datum": "HC N0"}, "x2": {"datum": "HC N2"}, "y": {"datum": -1.43}}},
{"data": {"name": "one"}, "mark": {"type": "rule", "color": "#aaa", "strokeWidth": 1}, "encoding": {"x": {"datum": "LC N0"}, "x2": {"datum": "LC N2"}, "y": {"datum": -1.43}}},
{"data": {"name": "one"}, "mark": {"type": "text", "text": "HC", "fontSize": 11, "baseline": "middle"}, "encoding": {"x": {"datum": "HC N1"}, "y": {"datum": -1.66}}},
{"data": {"name": "one"}, "mark": {"type": "text", "text": "LC", "fontSize": 11, "baseline": "middle"}, "encoding": {"x": {"datum": "LC N1"}, "y": {"datum": -1.66}}}
]
}
]
}
]
}
]
},
{
"spacing": 48,
"resolve": {"scale": {"color": "independent"}, "legend": {"color": "independent"}},
"hconcat": [
{
"spacing": -19,
"resolve": {"scale": {"color": "independent"}, "legend": {"color": "independent"}},
"hconcat": [
{"width": 1, "height": 1, "data": {"name": "one"}, "mark": {"type": "text", "text": "c", "fontSize": 14, "fontWeight": "bold", "align": "left", "baseline": "middle"}, "encoding": {"x": {"datum": -37, "scale": {"domain": [0, 1]}, "axis": null}, "y": {"datum": 28, "scale": {"domain": [0, 1]}, "axis": null}}},
{
"spacing": 0,
"resolve": {"scale": {"color": "independent"}, "legend": {"color": "independent"}},
"vconcat": [
{
"spacing": 15,
"resolve": {"scale": {"color": "independent"}, "legend": {"color": "independent"}},
"hconcat": [
{
"width": 107, "height": 110,
"data": {"name": "box"},
"transform": [{"filter": "datum.m==='Simpson'"}],
"layer": [
{"mark": {"type": "rule", "strokeWidth": 1.3}, "encoding": {
  "x": {"field": "grp", "type": "nominal", "sort": null, "scale": {"domain": ["HC N0", "HC N1", "HC N2", "LC N0", "LC N1", "LC N2"], "paddingInner": 0.35, "paddingOuter": 0.2}, "axis": {"labelExpr": "slice(datum.value, 3)", "title": null, "tickSize": 4, "labelAngle": 0, "labelFontSize": 9, "labelPadding": 1}},
  "y": {"field": "lo", "type": "quantitative", "scale": {"domain": [0, 1.2], "nice": false}, "axis": {"values": [0, 0.4, 0.8, 1.2], "tickCount": 4, "labelExpr": "round(datum.value * 10) % 4 === 0 ? format(datum.value, '.1f') : ''", "tickOpacity": {"condition": {"test": "round(datum.value * 10) % 4 === 0", "value": 1}, "value": 0}, "title": "Simpson diversity", "tickSize": 4, "labelFontSize": 9.5, "titleFontSize": 10, "labelOverlap": false, "labelColor": "#000", "titlePadding": 3, "labelPadding": 2}},
  "y2": {"field": "q1"},
  "color": {"field": "grp", "type": "nominal", "scale": {"domain": ["HC N0", "HC N1", "HC N2", "LC N0", "LC N1", "LC N2"], "range": ["#f2b38d", "#d9503a", "#8e1f24", "#a9d0e8", "#4a8cc2", "#30306e"]}, "legend": null}}},
{"mark": {"type": "rule", "strokeWidth": 1.3}, "encoding": {"x": {"field": "grp", "type": "nominal"}, "y": {"field": "q3", "type": "quantitative", "axis": {"values": [0, 0.4, 0.8, 1.2], "tickCount": 4}}, "y2": {"field": "hi"}, "color": {"field": "grp", "type": "nominal", "legend": null}}},
{"mark": {"type": "bar", "filled": false, "strokeWidth": 1.3, "width": {"band": 0.65}}, "encoding": {"x": {"field": "grp", "type": "nominal"}, "y": {"field": "q1", "type": "quantitative", "axis": {"values": [0, 0.4, 0.8, 1.2], "tickCount": 4}}, "y2": {"field": "q3"}, "color": {"field": "grp", "type": "nominal", "legend": null}}},
{"mark": {"type": "tick", "thickness": 1.3, "size": 11}, "encoding": {"x": {"field": "grp", "type": "nominal"}, "y": {"field": "md", "type": "quantitative", "axis": {"values": [0, 0.4, 0.8, 1.2], "tickCount": 4}}, "color": {"field": "grp", "type": "nominal", "legend": null}}},
{"mark": {"type": "tick", "thickness": 1.3, "size": 6}, "encoding": {"x": {"field": "grp", "type": "nominal"}, "y": {"field": "lo", "type": "quantitative", "axis": {"values": [0, 0.4, 0.8, 1.2], "tickCount": 4}}, "color": {"field": "grp", "type": "nominal", "legend": null}}},
{"mark": {"type": "tick", "thickness": 1.3, "size": 6}, "encoding": {"x": {"field": "grp", "type": "nominal"}, "y": {"field": "hi", "type": "quantitative", "axis": {"values": [0, 0.4, 0.8, 1.2], "tickCount": 4}}, "color": {"field": "grp", "type": "nominal", "legend": null}}},
{"data": {"name": "one"}, "mark": {"type": "rule", "color": "#aaa", "strokeWidth": 1}, "encoding": {"x": {"datum": "HC N0"}, "x2": {"datum": "HC N2"}, "y": {"datum": -0.168}}},
{"data": {"name": "one"}, "mark": {"type": "rule", "color": "#aaa", "strokeWidth": 1}, "encoding": {"x": {"datum": "LC N0"}, "x2": {"datum": "LC N2"}, "y": {"datum": -0.168}}},
{"data": {"name": "one"}, "mark": {"type": "text", "text": "HC", "fontSize": 10.5, "baseline": "middle"}, "encoding": {"x": {"datum": "HC N1"}, "y": {"datum": -0.222}}},
{"data": {"name": "one"}, "mark": {"type": "text", "text": "LC", "fontSize": 10.5, "baseline": "middle"}, "encoding": {"x": {"datum": "LC N1"}, "y": {"datum": -0.222}}}
]
},
{
"width": 107, "height": 110,
"data": {"name": "box"},
"transform": [{"filter": "datum.m==='Pielou'"}],
"layer": [
{"mark": {"type": "rule", "strokeWidth": 1.3}, "encoding": {
  "x": {"field": "grp", "type": "nominal", "sort": null, "scale": {"domain": ["HC N0", "HC N1", "HC N2", "LC N0", "LC N1", "LC N2"], "paddingInner": 0.35, "paddingOuter": 0.2}, "axis": {"labelExpr": "slice(datum.value, 3)", "title": null, "tickSize": 4, "labelAngle": 0, "labelFontSize": 9, "labelPadding": 1}},
  "y": {"field": "lo", "type": "quantitative", "scale": {"domain": [0, 1], "nice": false}, "axis": {"values": [0, 0.2, 0.4, 0.6, 0.8, 1], "tickCount": 5, "format": ".1f", "title": "Pielou evenness", "tickSize": 4, "labelFontSize": 9.5, "titleFontSize": 10, "labelOverlap": false, "labelColor": "#000", "titlePadding": 3, "labelPadding": 2}},
  "y2": {"field": "q1"},
  "color": {"field": "grp", "type": "nominal", "scale": {"domain": ["HC N0", "HC N1", "HC N2", "LC N0", "LC N1", "LC N2"], "range": ["#f2b38d", "#d9503a", "#8e1f24", "#a9d0e8", "#4a8cc2", "#30306e"]}, "legend": null}}},
{"mark": {"type": "rule", "strokeWidth": 1.3}, "encoding": {"x": {"field": "grp", "type": "nominal"}, "y": {"field": "q3", "type": "quantitative", "axis": {"values": [0, 0.2, 0.4, 0.6, 0.8, 1], "tickCount": 5}}, "y2": {"field": "hi"}, "color": {"field": "grp", "type": "nominal", "legend": null}}},
{"mark": {"type": "bar", "filled": false, "strokeWidth": 1.3, "width": {"band": 0.65}}, "encoding": {"x": {"field": "grp", "type": "nominal"}, "y": {"field": "q1", "type": "quantitative", "axis": {"values": [0, 0.2, 0.4, 0.6, 0.8, 1], "tickCount": 5}}, "y2": {"field": "q3"}, "color": {"field": "grp", "type": "nominal", "legend": null}}},
{"mark": {"type": "tick", "thickness": 1.3, "size": 11}, "encoding": {"x": {"field": "grp", "type": "nominal"}, "y": {"field": "md", "type": "quantitative", "axis": {"values": [0, 0.2, 0.4, 0.6, 0.8, 1], "tickCount": 5}}, "color": {"field": "grp", "type": "nominal", "legend": null}}},
{"mark": {"type": "tick", "thickness": 1.3, "size": 6}, "encoding": {"x": {"field": "grp", "type": "nominal"}, "y": {"field": "lo", "type": "quantitative", "axis": {"values": [0, 0.2, 0.4, 0.6, 0.8, 1], "tickCount": 5}}, "color": {"field": "grp", "type": "nominal", "legend": null}}},
{"mark": {"type": "tick", "thickness": 1.3, "size": 6}, "encoding": {"x": {"field": "grp", "type": "nominal"}, "y": {"field": "hi", "type": "quantitative", "axis": {"values": [0, 0.2, 0.4, 0.6, 0.8, 1], "tickCount": 5}}, "color": {"field": "grp", "type": "nominal", "legend": null}}},
{"data": {"name": "one"}, "mark": {"type": "rule", "color": "#aaa", "strokeWidth": 1}, "encoding": {"x": {"datum": "HC N0"}, "x2": {"datum": "HC N2"}, "y": {"datum": -0.14}}},
{"data": {"name": "one"}, "mark": {"type": "rule", "color": "#aaa", "strokeWidth": 1}, "encoding": {"x": {"datum": "LC N0"}, "x2": {"datum": "LC N2"}, "y": {"datum": -0.14}}},
{"data": {"name": "one"}, "mark": {"type": "text", "text": "HC", "fontSize": 10.5, "baseline": "middle"}, "encoding": {"x": {"datum": "HC N1"}, "y": {"datum": -0.185}}},
{"data": {"name": "one"}, "mark": {"type": "text", "text": "LC", "fontSize": 10.5, "baseline": "middle"}, "encoding": {"x": {"datum": "LC N1"}, "y": {"datum": -0.185}}}
]
}
]
},
{
"spacing": 15,
"resolve": {"scale": {"color": "independent"}, "legend": {"color": "independent"}},
"hconcat": [
{
"width": 107, "height": 110,
"data": {"name": "box"},
"transform": [{"filter": "datum.m==='Shannon'"}],
"layer": [
{"mark": {"type": "rule", "strokeWidth": 1.3}, "encoding": {
  "x": {"field": "grp", "type": "nominal", "sort": null, "scale": {"domain": ["HC N0", "HC N1", "HC N2", "LC N0", "LC N1", "LC N2"], "paddingInner": 0.35, "paddingOuter": 0.2}, "axis": {"labelExpr": "slice(datum.value, 3)", "title": null, "tickSize": 4, "labelAngle": 0, "labelFontSize": 9, "labelPadding": 1}},
  "y": {"field": "lo", "type": "quantitative", "scale": {"domain": [0, 4], "nice": false}, "axis": {"values": [0, 1, 2, 3, 4], "tickCount": 4, "title": "Shannon diversity", "tickSize": 4, "labelFontSize": 9.5, "titleFontSize": 10, "labelOverlap": false, "labelColor": "#000", "titlePadding": 3, "labelPadding": 2}},
  "y2": {"field": "q1"},
  "color": {"field": "grp", "type": "nominal", "scale": {"domain": ["HC N0", "HC N1", "HC N2", "LC N0", "LC N1", "LC N2"], "range": ["#f2b38d", "#d9503a", "#8e1f24", "#a9d0e8", "#4a8cc2", "#30306e"]}, "legend": null}}},
{"mark": {"type": "rule", "strokeWidth": 1.3}, "encoding": {"x": {"field": "grp", "type": "nominal"}, "y": {"field": "q3", "type": "quantitative", "axis": {"values": [0, 1, 2, 3, 4], "tickCount": 4}}, "y2": {"field": "hi"}, "color": {"field": "grp", "type": "nominal", "legend": null}}},
{"mark": {"type": "bar", "filled": false, "strokeWidth": 1.3, "width": {"band": 0.65}}, "encoding": {"x": {"field": "grp", "type": "nominal"}, "y": {"field": "q1", "type": "quantitative", "axis": {"values": [0, 1, 2, 3, 4], "tickCount": 4}}, "y2": {"field": "q3"}, "color": {"field": "grp", "type": "nominal", "legend": null}}},
{"mark": {"type": "tick", "thickness": 1.3, "size": 11}, "encoding": {"x": {"field": "grp", "type": "nominal"}, "y": {"field": "md", "type": "quantitative", "axis": {"values": [0, 1, 2, 3, 4], "tickCount": 4}}, "color": {"field": "grp", "type": "nominal", "legend": null}}},
{"mark": {"type": "tick", "thickness": 1.3, "size": 6}, "encoding": {"x": {"field": "grp", "type": "nominal"}, "y": {"field": "lo", "type": "quantitative", "axis": {"values": [0, 1, 2, 3, 4], "tickCount": 4}}, "color": {"field": "grp", "type": "nominal", "legend": null}}},
{"mark": {"type": "tick", "thickness": 1.3, "size": 6}, "encoding": {"x": {"field": "grp", "type": "nominal"}, "y": {"field": "hi", "type": "quantitative", "axis": {"values": [0, 1, 2, 3, 4], "tickCount": 4}}, "color": {"field": "grp", "type": "nominal", "legend": null}}},
{"data": {"name": "one"}, "mark": {"type": "rule", "color": "#aaa", "strokeWidth": 1}, "encoding": {"x": {"datum": "HC N0"}, "x2": {"datum": "HC N2"}, "y": {"datum": -0.56}}},
{"data": {"name": "one"}, "mark": {"type": "rule", "color": "#aaa", "strokeWidth": 1}, "encoding": {"x": {"datum": "LC N0"}, "x2": {"datum": "LC N2"}, "y": {"datum": -0.56}}},
{"data": {"name": "one"}, "mark": {"type": "text", "text": "HC", "fontSize": 10.5, "baseline": "middle"}, "encoding": {"x": {"datum": "HC N1"}, "y": {"datum": -0.74}}},
{"data": {"name": "one"}, "mark": {"type": "text", "text": "LC", "fontSize": 10.5, "baseline": "middle"}, "encoding": {"x": {"datum": "LC N1"}, "y": {"datum": -0.74}}}
]
},
{
"width": 107, "height": 110,
"data": {"name": "box"},
"transform": [{"filter": "datum.m==='Rich'"}],
"layer": [
{"mark": {"type": "rule", "strokeWidth": 1.3}, "encoding": {
  "x": {"field": "grp", "type": "nominal", "sort": null, "scale": {"domain": ["HC N0", "HC N1", "HC N2", "LC N0", "LC N1", "LC N2"], "paddingInner": 0.35, "paddingOuter": 0.2}, "axis": {"labelExpr": "slice(datum.value, 3)", "title": null, "tickSize": 4, "labelAngle": 0, "labelFontSize": 9, "labelPadding": 1}},
  "y": {"field": "lo", "type": "quantitative", "scale": {"domain": [40, 80], "nice": false, "zero": false}, "axis": {"values": [40, 50, 60, 70, 80], "tickCount": 4, "title": "Species richness", "tickSize": 4, "labelFontSize": 9.5, "titleFontSize": 10, "labelOverlap": false, "labelColor": "#000", "titlePadding": 3, "labelPadding": 2}},
  "y2": {"field": "q1"},
  "color": {"field": "grp", "type": "nominal", "scale": {"domain": ["HC N0", "HC N1", "HC N2", "LC N0", "LC N1", "LC N2"], "range": ["#f2b38d", "#d9503a", "#8e1f24", "#a9d0e8", "#4a8cc2", "#30306e"]}, "legend": null}}},
{"mark": {"type": "rule", "strokeWidth": 1.3}, "encoding": {"x": {"field": "grp", "type": "nominal"}, "y": {"field": "q3", "type": "quantitative", "axis": {"values": [40, 50, 60, 70, 80], "tickCount": 4}}, "y2": {"field": "hi"}, "color": {"field": "grp", "type": "nominal", "legend": null}}},
{"mark": {"type": "bar", "filled": false, "strokeWidth": 1.3, "width": {"band": 0.65}}, "encoding": {"x": {"field": "grp", "type": "nominal"}, "y": {"field": "q1", "type": "quantitative", "axis": {"values": [40, 50, 60, 70, 80], "tickCount": 4}}, "y2": {"field": "q3"}, "color": {"field": "grp", "type": "nominal", "legend": null}}},
{"mark": {"type": "tick", "thickness": 1.3, "size": 11}, "encoding": {"x": {"field": "grp", "type": "nominal"}, "y": {"field": "md", "type": "quantitative", "axis": {"values": [40, 50, 60, 70, 80], "tickCount": 4}}, "color": {"field": "grp", "type": "nominal", "legend": null}}},
{"mark": {"type": "tick", "thickness": 1.3, "size": 6}, "encoding": {"x": {"field": "grp", "type": "nominal"}, "y": {"field": "lo", "type": "quantitative", "axis": {"values": [40, 50, 60, 70, 80], "tickCount": 4}}, "color": {"field": "grp", "type": "nominal", "legend": null}}},
{"mark": {"type": "tick", "thickness": 1.3, "size": 6}, "encoding": {"x": {"field": "grp", "type": "nominal"}, "y": {"field": "hi", "type": "quantitative", "axis": {"values": [40, 50, 60, 70, 80], "tickCount": 4}}, "color": {"field": "grp", "type": "nominal", "legend": null}}},
{"data": {"name": "one"}, "mark": {"type": "rule", "color": "#aaa", "strokeWidth": 1}, "encoding": {"x": {"datum": "HC N0"}, "x2": {"datum": "HC N2"}, "y": {"datum": 34.4}}},
{"data": {"name": "one"}, "mark": {"type": "rule", "color": "#aaa", "strokeWidth": 1}, "encoding": {"x": {"datum": "LC N0"}, "x2": {"datum": "LC N2"}, "y": {"datum": 34.4}}},
{"data": {"name": "one"}, "mark": {"type": "text", "text": "HC", "fontSize": 10.5, "baseline": "middle"}, "encoding": {"x": {"datum": "HC N1"}, "y": {"datum": 32.6}}},
{"data": {"name": "one"}, "mark": {"type": "text", "text": "LC", "fontSize": 10.5, "baseline": "middle"}, "encoding": {"x": {"datum": "LC N1"}, "y": {"datum": 32.6}}}
]
}
]
}
]
}
]
},
{
"spacing": 4,
"resolve": {"scale": {"color": "independent"}, "legend": {"color": "independent"}},
"vconcat": [
{"width": 1, "height": 5, "data": {"name": "one"}, "mark": {"type": "text", "text": "d", "fontSize": 14, "fontWeight": "bold", "align": "left", "baseline": "middle"}, "encoding": {"x": {"datum": 8, "scale": {"domain": [0, 1]}, "axis": null}, "y": {"datum": 5, "scale": {"domain": [0, 1]}, "axis": null}}},
{
"width": 248, "height": 203,
"layer": [
{"data": {"name": "abund"},
 "transform": [{"calculate": "indexof(['Porphyromonadaceae','Bifidobacteriaceae','Lactobacillaceae','Erysipelotrichaceae','Veillonellaceae','Enterobacteriaceae','Prevotellaceae','Ruminococcaceae','Lachnospiraceae','Bacteroidaceae','Others'], datum.fam)", "as": "o"}],
 "mark": {"type": "bar", "stroke": "#1c2b22", "strokeWidth": 1.3},
 "encoding": {
  "x": {"field": "bar", "type": "nominal", "sort": null, "scale": {"domain": ["Total N0", "Total N1", "Total N2", "HC N0", "HC N1", "HC N2", "LC N0", "LC N1", "LC N2"], "paddingInner": 0.1, "paddingOuter": 0.06}, "axis": {"labelExpr": "split(datum.value, ' ')[1]", "title": null, "domain": false, "tickSize": 4, "labelAngle": -90, "labelFontSize": 13, "labelColor": "#222"}},
  "y": {"field": "v", "type": "quantitative", "stack": "zero", "scale": {"domain": [0, 100], "nice": false}, "axis": {"values": [0, 25, 50, 75, 100], "title": "Relative Abundance (%)", "titleFontSize": 16, "labelFontSize": 14, "domain": false, "tickSize": 3, "labelPadding": 1, "titlePadding": 2}},
  "color": {"field": "fam", "type": "nominal", "scale": {"domain": ["Others", "Bacteroidaceae", "Lachnospiraceae", "Ruminococcaceae", "Prevotellaceae", "Enterobacteriaceae", "Veillonellaceae", "Erysipelotrichaceae", "Lactobacillaceae", "Bifidobacteriaceae", "Porphyromonadaceae"], "range": ["#9cc83a", "#a0d38e", "#62c09f", "#36a86a", "#b5d6e8", "#8cc7ec", "#4a7fc1", "#147f7a", "#5fc3da", "#6f8bc9", "#5cc4b8"]},
   "legend": {"title": "Family", "titleFontSize": 14, "titleFontWeight": "bold", "titleColor": "#111", "labelFontSize": 10.5, "labelColor": "#222", "labelOffset": 5, "symbolType": "square", "symbolSize": 210, "symbolStrokeColor": "#1c2b22", "symbolStrokeWidth": 1.2, "clipHeight": 15, "rowPadding": 2, "offset": 17, "titlePadding": 5}},
  "order": {"field": "o", "type": "quantitative"}}},
{"data": {"name": "one"}, "mark": {"type": "rule", "color": "#333", "strokeWidth": 1}, "encoding": {"x": {"datum": "Total N0"}, "x2": {"datum": "Total N2"}, "y": {"datum": -17.7}}},
{"data": {"name": "one"}, "mark": {"type": "rule", "color": "#333", "strokeWidth": 1}, "encoding": {"x": {"datum": "HC N0"}, "x2": {"datum": "HC N2"}, "y": {"datum": -17.7}}},
{"data": {"name": "one"}, "mark": {"type": "rule", "color": "#333", "strokeWidth": 1}, "encoding": {"x": {"datum": "LC N0"}, "x2": {"datum": "LC N2"}, "y": {"datum": -17.7}}},
{"data": {"name": "one"}, "mark": {"type": "text", "text": "Total", "fontSize": 13, "baseline": "middle"}, "encoding": {"x": {"datum": "Total N1"}, "y": {"datum": -23}}},
{"data": {"name": "one"}, "mark": {"type": "text", "text": "HC", "fontSize": 13, "baseline": "middle"}, "encoding": {"x": {"datum": "HC N1"}, "y": {"datum": -23}}},
{"data": {"name": "one"}, "mark": {"type": "text", "text": "LC", "fontSize": 13, "baseline": "middle"}, "encoding": {"x": {"datum": "LC N1"}, "y": {"datum": -23}}}
]
}
]
}
]
}
],
"spacing": 24,
"resolve": {"scale": {"color": "independent"}, "legend": {"color": "independent"}},
"config": {
 "font": "Liberation Sans",
 "view": {"stroke": null},
 "axis": {"grid": false, "labelColor": "#222", "titleColor": "#222", "domainColor": "#333", "tickColor": "#333", "titleFontWeight": "normal", "labelOverlap": false},
 "title": {"color": "#111"}
}
}
